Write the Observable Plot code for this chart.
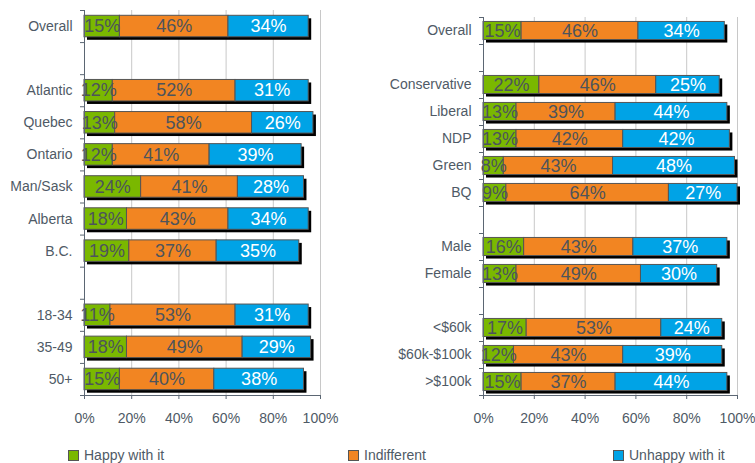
<!DOCTYPE html>
<html><head><meta charset="utf-8">
<script src="https://cdn.jsdelivr.net/npm/d3@7"></script>
<script src="https://cdn.jsdelivr.net/npm/@observablehq/plot@0.6"></script>
<style>
body{margin:0;background:#fff;font-family:"Liberation Sans",Arial,sans-serif;}
#wrap{position:relative;width:755px;height:463px;overflow:hidden;}
#charts{display:flex;}
.leg{position:absolute;top:449px;font-size:14px;color:#4f5a66;display:flex;align-items:center;line-height:12px;}
.sw{width:9px;height:9px;border:1px solid #555;margin-right:5px;}
</style></head><body>
<div id="wrap"><div id="charts"></div><div id="legend"></div></div>
<script>
const seriesNames = ["Happy with it", "Indifferent", "Unhappy with it"];
const seriesColors = ["#7ab800", "#f28522", "#00a3e6"];
const xTicks = [0, 20, 40, 60, 80, 100];

// Left panel (null = empty gap row)
const leftCategories = ["Overall", null, "Atlantic", "Quebec", "Ontario", "Man/Sask", "Alberta", "B.C.", null, "18-34", "35-49", "50+"];
const leftHappy     = [15, 12, 13, 12, 24, 18, 19, 11, 18, 15];
const leftIndiff    = [46, 52, 58, 41, 41, 43, 37, 53, 49, 40];
const leftUnhappy   = [34, 31, 26, 39, 28, 34, 35, 31, 29, 38];

// Right panel
const rightCategories = ["Overall", null, "Conservative", "Liberal", "NDP", "Green", "BQ", null, "Male", "Female", null, "<$60k", "$60k-$100k", ">$100k"];
const rightHappy    = [15, 22, 13, 13, 8, 9, 16, 13, 17, 12, 15];
const rightIndiff   = [46, 46, 39, 42, 43, 64, 43, 49, 53, 43, 37];
const rightUnhappy  = [34, 25, 44, 42, 48, 27, 37, 30, 24, 39, 44];

const colorOf = Object.fromEntries(seriesNames.map((s, k) => [s, seriesColors[k]]));
const axisColor = "#5b6673";

function panel(cats, happy, indiff, unhappy, opt) {
  const slots = cats.map((c, i) => c === null ? "__gap" + i : c);
  const named = cats.filter(c => c !== null);
  const rows = [];
  named.forEach((c, j) => {
    [happy, indiff, unhappy].forEach((arr, k) => rows.push({cat: c, series: seriesNames[k], value: arr[j]}));
  });
  const totals = named.map((c, j) => ({cat: c, total: happy[j] + indiff[j] + unhappy[j]}));
  const step = (opt.height - opt.marginTop - opt.marginBottom) / slots.length;
  return Plot.plot({
    width: opt.width, height: opt.height,
    marginLeft: opt.marginLeft, marginRight: opt.marginRight,
    marginTop: opt.marginTop, marginBottom: opt.marginBottom,
    style: {fontFamily: "'Liberation Sans', Arial, sans-serif", fontSize: "14px", color: "#4f5a66", background: "white", overflow: "visible"},
    x: {domain: [0, 100]},
    y: {domain: slots, paddingInner: 0.33, paddingOuter: 0.165, round: false},
    marks: [
      Plot.gridX({ticks: [20, 40, 60, 80, 100], stroke: "#c8c8c8", strokeOpacity: 1}),
      Plot.barX(totals, {x1: 0, x2: "total", y: "cat", fill: "black", dx: 3, dy: 3}),
      Plot.barX(rows, Plot.stackX({x: "value", y: "cat", z: "series", fill: d => colorOf[d.series], stroke: "#555", strokeWidth: 1})),
      Plot.textX(rows, Plot.stackX({x: "value", y: "cat", z: "series", text: d => d.value + "%",
        fill: d => d.series === "Unhappy with it" ? "#ffffff" : "#4d545c", fontSize: 18})),
      Plot.ruleX([0], {stroke: axisColor}),
      Plot.ruleY(slots, {y: d => d, dy: -step / 2, x1: 0, x2: 0, insetLeft: -4, stroke: axisColor}),
      Plot.ruleY([slots[slots.length - 1]], {y: d => d, dy: step / 2, x1: 0, x2: 100, insetLeft: -4, stroke: axisColor}),
      Plot.axisX({ticks: xTicks, tickFormat: d => d + "%", tickSize: 4, tickPadding: 14, stroke: axisColor, label: null}),
      Plot.axisY({tickSize: 0, tickPadding: 12, tickFormat: d => d.startsWith("__gap") ? "" : d, label: null})
    ]
  });
}

const charts = document.getElementById("charts");
charts.append(panel(leftCategories, leftHappy, leftIndiff, leftUnhappy,
  {width: 370, height: 430, marginLeft: 84, marginRight: 50, marginTop: 10, marginBottom: 35}));
charts.append(panel(rightCategories, rightHappy, rightIndiff, rightUnhappy,
  {width: 385, height: 430, marginLeft: 113, marginRight: 18, marginTop: 17, marginBottom: 35}));

const legendX = [68, 348, 613];
const legend = document.getElementById("legend");
seriesNames.forEach((s, k) => {
  const item = document.createElement("div");
  item.className = "leg";
  item.style.left = legendX[k] + "px";
  const sw = document.createElement("div");
  sw.className = "sw";
  sw.style.background = seriesColors[k];
  const t = document.createElement("span");
  t.textContent = s;
  item.append(sw, t);
  legend.append(item);
});
</script>
</body></html>
